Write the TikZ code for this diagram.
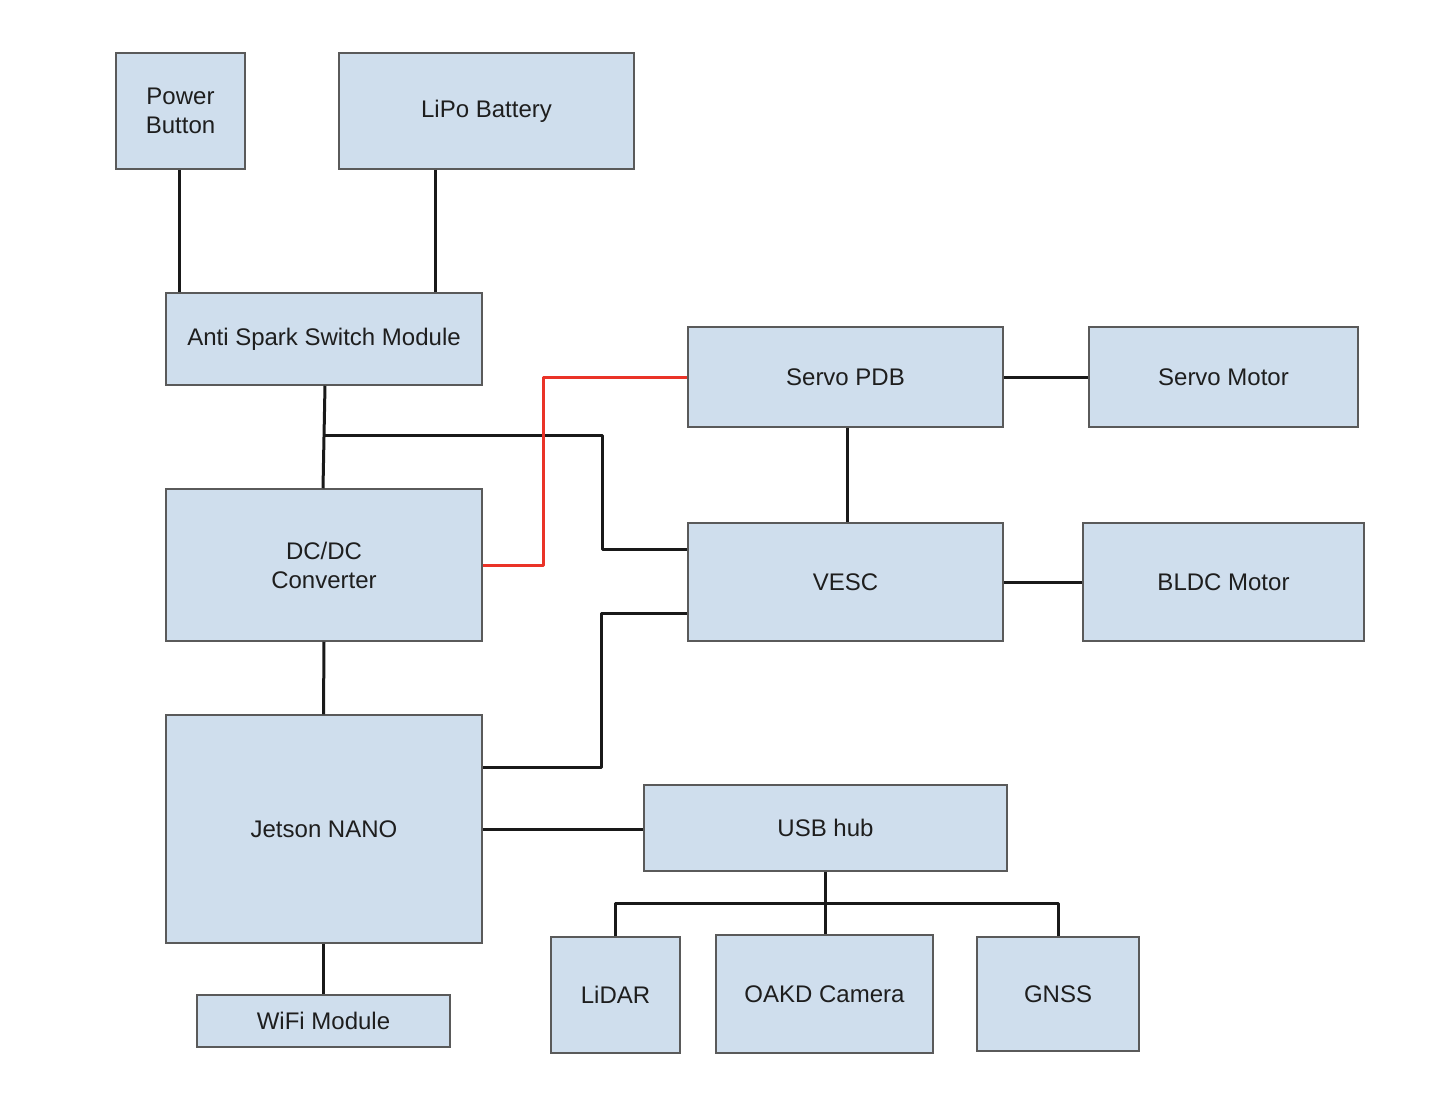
\documentclass[tikz,border=0pt]{standalone}
\usepackage{fontspec}
\setmainfont{Liberation Sans}
\usetikzlibrary{calc}
\definecolor{boxfill}{HTML}{CFDEED}
\definecolor{boxline}{HTML}{5A5A5A}
\definecolor{wirered}{HTML}{EA3328}
\definecolor{txt}{HTML}{1E1E1E}
\begin{document}
\begin{tikzpicture}[x=1pt,y=-1pt,
  blk/.style={draw=boxline,line width=1.5pt,fill=boxfill,inner sep=0pt,
    align=center,text=txt,font=\fontsize{24}{29}\selectfont},
  wire/.style={line width=3pt,draw=black!90,line join=round},
  redwire/.style={line width=3pt,draw=wirered,line join=round}]
\path[use as bounding box] (0,0) rectangle (1436,1100);
\node[blk,minimum width=129pt,minimum height=116pt] (pb) at (180.5,111) {Power\\Button};
\node[blk,minimum width=295pt,minimum height=116pt] (lipo) at (486.5,111) {LiPo Battery};
\node[blk,minimum width=316pt,minimum height=92pt] (asm) at (324,339) {Anti Spark Switch Module};
\node[blk,minimum width=315pt,minimum height=100pt] (spdb) at (845.5,377) {Servo PDB};
\node[blk,minimum width=269pt,minimum height=100pt] (smot) at (1223.5,377) {Servo Motor};
\node[blk,minimum width=316pt,minimum height=152pt] (dcdc) at (324,565) {DC/DC\\Converter};
\node[blk,minimum width=315pt,minimum height=118pt] (vesc) at (845.5,582) {VESC};
\node[blk,minimum width=281pt,minimum height=118pt] (bldc) at (1223.5,582) {BLDC Motor};
\node[blk,minimum width=316pt,minimum height=228pt] (jet) at (324,829) {Jetson NANO};
\node[blk,minimum width=363pt,minimum height=86pt] (usb) at (825.5,828) {USB hub};
\node[blk,minimum width=129pt,minimum height=116pt] (lidar) at (615.5,995) {LiDAR};
\node[blk,minimum width=217pt,minimum height=118pt] (oakd) at (824.5,994) {OAKD Camera};
\node[blk,minimum width=162pt,minimum height=114pt] (gnss) at (1058,994) {GNSS};
\node[blk,minimum width=253pt,minimum height=52pt] (wifi) at (323.5,1021) {WiFi Module};
% power
\draw[wire] ([xshift=-1.5pt]pb.south) -- ([xshift=-1.5pt]pb.south |- asm.north);
\draw[wire] ([xshift=-51.5pt]lipo.south) -- ([xshift=-51.5pt]lipo.south |- asm.north);
\draw[wire] ([xshift=1pt]asm.south) -- ([xshift=-1pt]dcdc.north);
\coordinate (j1) at ($(asm.south)+(0.5,50)$);
\draw[wire] (j1) -- ($(j1)+(278,0)$) |- ($(vesc.west)+(0,-33)$);
\draw[redwire] (dcdc.east) -| ($(spdb.west)+(-144,0)$) -- (spdb.west);
\draw[wire] ([xshift=1.5pt]spdb.south) -- ([xshift=1.5pt]vesc.north);
\draw[wire] (spdb.east) -- (smot.west);
\draw[wire] (vesc.east) -- (bldc.west);
\draw[wire] ($(vesc.west)+(0,31)$) -- ($(vesc.west)+(-86,31)$) |- ($(jet.east)+(0,-62)$);
\draw[wire] (dcdc.south) -- ([xshift=-0.5pt]jet.north);
\draw[wire] (jet.east) -- (jet.east -| usb.west);
\draw[wire] ([xshift=-0.5pt]jet.south) -- (wifi.north);
\coordinate (bus) at ($(usb.south)+(0,32)$);
\draw[wire] (usb.south) -- (bus);
\draw[wire] (lidar.north) |- (bus) -| (gnss.north);
\draw[wire] (bus) -- (bus |- oakd.north);
\end{tikzpicture}
\end{document}
